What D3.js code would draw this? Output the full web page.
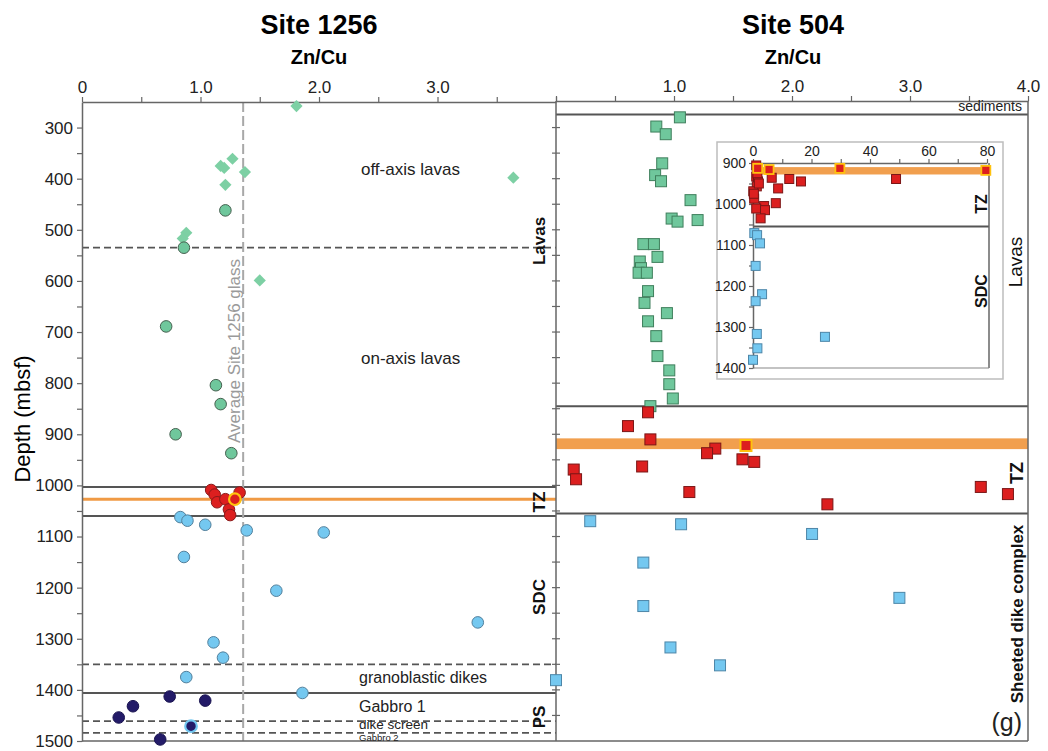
<!DOCTYPE html>
<html><head><meta charset="utf-8">
<script src="https://cdn.jsdelivr.net/npm/d3@7"></script>
<style>
body{margin:0;background:#fff;}
svg{font-family:"Liberation Sans",Arial,sans-serif;}
</style></head>
<body><svg id="c" width="1048" height="751"></svg>
<script>
// ---------- data ----------
const depthTicks = [300,400,500,600,700,800,900,1000,1100,1200,1300,1400,1500];
const xTickLeftLabels = ["0","1.0","2.0","3.0"];
const xTickRightLabels = ["1.0","2.0","3.0","4.0"];
const insetXTicks = [0,20,40,60,80];
const insetDepthTicks = [900,1000,1100,1200,1300,1400];

// Site 1256 [Zn/Cu, depth mbsf]
const s1256OffAxis = [[1.81,258],[1.17,375],[1.20,379],[1.27,361],[1.375,387],[1.21,412],[3.64,398],[0.88,506],[0.85,517],[1.50,599]];
const s1256OnAxis = [[1.21,462],[0.86,535],[0.71,689],[1.13,804],[1.17,841],[0.79,900],[1.26,937]];
const s1256TZ = [[1.09,1009],[1.12,1018],[1.14,1033],[1.21,1027],[1.33,1014],[1.24,1047],[1.25,1058]];
const s1256TZHighlight = [[1.29,1027]];
const s1256SDC = [[0.83,1062],[0.89,1069],[1.04,1077],[1.39,1088],[2.04,1092],[0.86,1140],[1.64,1206],[3.34,1268],[1.11,1307],[1.19,1337],[0.88,1375],[1.86,1406]];
const s1256Gabbro = [[0.74,1413],[1.04,1421],[0.43,1432],[0.31,1454],[0.66,1497]];
const s1256DikeScreen = [[0.92,1471]];
const avgGlass1256 = 1.36;
const s1256SolidBounds = [1003,1060,1406];
const s1256DashedBounds = [535,1350,1461,1484];
const s1256OrangeDepth = 1027;

// Site 504
const s504Lavas = [[1.05,280],[0.85,298],[0.93,313],[0.90,370],[0.84,393],[0.89,405],[1.14,442],[0.98,478],[1.03,484],[1.20,481],[0.74,528],[0.83,528],[0.86,553],[0.71,562],[0.72,575],[0.70,584],[0.77,584],[0.78,620],[0.75,643],[0.94,663],[0.78,679],[0.85,708],[0.86,747],[0.96,775],[0.96,802],[0.99,830],[0.80,845]];
const s504TZ = [[0.78,857],[0.61,884],[0.80,910],[1.35,928],[1.28,937],[1.58,949],[1.68,954],[0.15,969],[0.17,988],[0.73,963],[1.13,1013],[2.30,1037],[3.60,1003],[3.83,1017]];
const s504TZHighlight = [[1.61,922]];
const s504SDC = [[0.29,1070],[1.06,1076],[2.17,1095],[0.74,1151],[0.74,1236],[2.91,1220],[0.97,1317],[1.39,1352],[0.0,1381]];
const s504Bounds = [274.5,845,1055];
const s504OrangeBand = [908,929];

// Inset (Site 504, full Zn/Cu range)
const insetTZ = [[1.1,906],[6.4,936],[12.4,939],[16.4,945],[48.9,939],[1.1,933],[1.7,945],[1.3,957],[0.1,969],[0.4,987],[8.6,962],[7.8,998],[3.8,1005],[1.1,1011],[4.1,1015],[2.6,1035],[1.5,925],[2.0,950],[0.3,975]];
const insetTZHighlight = [[1.6,913],[5.5,916],[29.7,913],[79.6,918]];
const insetSDC = [[0.45,1071],[1.4,1076],[2.4,1096],[0.9,1151],[3.1,1220],[0.9,1237],[1.3,1317],[24.6,1324],[1.5,1352],[0,1380]];
const insetBoundary = 1055;
const insetOrangeBand = [910,928];

// ---------- colours ----------
const cGreen="#6fc79c", cGreenD="#7dd0a4", cRed="#dc1f1f", cBlue="#74c8f0", cNavy="#231b68", cOrange="#f09a45", cGold="#ffc20e", cLine="#555";

// ---------- scales ----------
const svg = d3.select("#c");
const y = d3.scaleLinear().domain([250,1500]).range([102,741]);
const xL = d3.scaleLinear().domain([0,4]).range([82,556]);
const xR = d3.scaleLinear().domain([0,4]).range([556,1028]);
const xI = d3.scaleLinear().domain([0,80]).range([753,987]);
const yI = d3.scaleLinear().domain([900,1400]).range([163,368]);

const fontAxis = 17;

// ---------- titles ----------
svg.append("text").attr("x",319).attr("y",34).attr("text-anchor","middle").attr("font-size",27).attr("font-weight","bold").text("Site 1256");
svg.append("text").attr("x",793).attr("y",34).attr("text-anchor","middle").attr("font-size",27).attr("font-weight","bold").text("Site 504");
svg.append("text").attr("x",319).attr("y",64).attr("text-anchor","middle").attr("font-size",20).attr("font-weight","bold").text("Zn/Cu");
svg.append("text").attr("x",793).attr("y",64).attr("text-anchor","middle").attr("font-size",20).attr("font-weight","bold").text("Zn/Cu");
svg.append("text").attr("transform","translate(30,419) rotate(-90)").attr("text-anchor","middle").attr("font-size",22).text("Depth (mbsf)");

// ---------- backgrounds: bands & lines ----------
const g = svg.append("g");
g.append("rect").attr("x",xR(0)).attr("width",xR(4)-xR(0)).attr("y",y(s504OrangeBand[0])).attr("height",y(s504OrangeBand[1])-y(s504OrangeBand[0])).attr("fill",cOrange).attr("opacity",0.95);
g.append("line").attr("x1",xL(0)).attr("x2",xL(4)).attr("y1",y(s1256OrangeDepth)).attr("y2",y(s1256OrangeDepth)).attr("stroke",cOrange).attr("stroke-width",3);
g.selectAll(".ls").data(s1256SolidBounds).join("line").attr("x1",xL(0)).attr("x2",xL(4)).attr("y1",d=>y(d)).attr("y2",d=>y(d)).attr("stroke",cLine).attr("stroke-width",2);
g.selectAll(".ld").data(s1256DashedBounds).join("line").attr("x1",xL(0)).attr("x2",xL(4)).attr("y1",d=>y(d)).attr("y2",d=>y(d)).attr("stroke",cLine).attr("stroke-width",1.8).attr("stroke-dasharray","7,4");
g.selectAll(".rs").data(s504Bounds).join("line").attr("x1",xR(0)).attr("x2",xR(4)).attr("y1",d=>y(d)).attr("y2",d=>y(d)).attr("stroke",cLine).attr("stroke-width",2);
g.append("line").attr("x1",xL(avgGlass1256)).attr("x2",xL(avgGlass1256)).attr("y1",y(250)).attr("y2",y(1500)).attr("stroke","#a8a8a8").attr("stroke-width",2).attr("stroke-dasharray","10,4");
svg.append("text").attr("transform",`translate(${xL(avgGlass1256)-3},351) rotate(-90)`).attr("text-anchor","middle").attr("font-size",17).attr("fill","#9a9a9a").text("Average Site 1256 glass");

// ---------- frame & axes ----------
const frame = svg.append("g").attr("stroke","#666").attr("stroke-width",1.5);
frame.append("line").attr("x1",xL(0)).attr("x2",xR(4)).attr("y1",741).attr("y2",741);
frame.append("line").attr("x1",556).attr("x2",556).attr("y1",101).attr("y2",741);
frame.append("line").attr("x1",1028).attr("x2",1028).attr("y1",101).attr("y2",741);

function styleAxis(sel, fs){
  sel.selectAll("path").attr("stroke","#666").attr("stroke-width",1.5);
  sel.selectAll("line").attr("stroke","#666").attr("stroke-width",1.2);
  sel.selectAll("text").attr("font-size",fs).attr("fill","#222").attr("font-family",'"Liberation Sans",Arial,sans-serif');
}
const halfTicks = d3.range(0,4.01,0.5);
const axL = svg.append("g").attr("transform","translate(0,102)")
  .call(d3.axisTop(xL).tickValues(halfTicks).tickSize(5).tickSizeOuter(0).tickPadding(4)
    .tickFormat(d => (Number.isInteger(d) && d<4) ? xTickLeftLabels[d] : ""));
styleAxis(axL, fontAxis);
const axR = svg.append("g").attr("transform","translate(0,101)")
  .call(d3.axisTop(xR).tickValues(halfTicks).tickSize(5).tickSizeOuter(0).tickPadding(4)
    .tickFormat(d => (Number.isInteger(d) && d>0) ? xTickRightLabels[d-1] : ""));
styleAxis(axR, fontAxis);
const ayL = svg.append("g").attr("transform",`translate(${xL(0)},0)`)
  .call(d3.axisLeft(y).tickValues(depthTicks).tickSize(5).tickSizeOuter(0).tickPadding(4).tickFormat(d3.format("d")));
styleAxis(ayL, fontAxis);
const ayLm = svg.append("g").attr("transform",`translate(${xL(0)},0)`)
  .call(d3.axisLeft(y).tickValues(d3.range(350,1500,100)).tickSize(5).tickSizeOuter(0).tickFormat(""));
styleAxis(ayLm, fontAxis);
ayLm.select("path").remove();
svg.append("g").selectAll("line").data(d3.range(300,1500,50)).join("line")
  .attr("x1",552).attr("x2",560).attr("y1",d=>y(d)).attr("y2",d=>y(d)).attr("stroke","#666").attr("stroke-width",1.2);

// ---------- unit labels ----------
function vlabel(x,yc,txt,fs,bold){
  svg.append("text").attr("transform",`translate(${x},${yc}) rotate(-90)`).attr("text-anchor","middle")
    .attr("font-size",fs).attr("font-weight",bold?"bold":"normal").attr("fill","#111").text(txt);
}
vlabel(545,241,"Lavas",17,true);
vlabel(545,502,"TZ",17,true);
vlabel(545,597,"SDC",17,true);
vlabel(545,717,"PS",17,true);
vlabel(1022,262,"Lavas",19,false);
vlabel(1023,473,"TZ",18,true);
vlabel(1023,614,"Sheeted dike complex",17,true);
svg.append("text").attr("x",1022).attr("y",731).attr("text-anchor","end").attr("font-size",25).attr("fill","#222").text("(g)");
svg.append("text").attr("x",1022).attr("y",111).attr("text-anchor","end").attr("font-size",14).attr("fill","#222").text("sediments");

function tlabel(x,yb,txt,fs){ svg.append("text").attr("x",x).attr("y",yb).attr("font-size",fs).attr("fill","#222").text(txt); }
tlabel(361,175,"off-axis lavas",17);
tlabel(361,364,"on-axis lavas",17);
tlabel(359,683,"granoblastic dikes",16);
tlabel(359,712,"Gabbro 1",16);
tlabel(359,729,"dike screen",13.5);
tlabel(359,741,"Gabbro 2",9.5);

// ---------- marks: Site 1256 ----------
const m = svg.append("g");
m.selectAll(".dia").data(s1256OffAxis).join("path")
  .attr("d", d3.symbol(d3.symbolDiamond2, 95))
  .attr("transform", d=>`translate(${xL(d[0])},${y(d[1])})`).attr("fill",cGreenD);
function circles(data, fill, stroke, sw){
  m.append("g").selectAll("circle").data(data).join("circle")
    .attr("cx",d=>xL(d[0])).attr("cy",d=>y(d[1])).attr("r",5.8)
    .attr("fill",fill).attr("stroke",stroke).attr("stroke-width",sw);
}
circles(s1256OnAxis, cGreen, "#45604f", 1);
circles(s1256SDC, cBlue, "#52809c", 1);
circles(s1256TZ, cRed, "#8a1a1a", 1);
circles(s1256TZHighlight, cRed, cGold, 2.2);
circles(s1256Gabbro, cNavy, "#1a1450", 1);
circles(s1256DikeScreen, cNavy, cBlue, 2.2);

// ---------- marks: Site 504 ----------
function squares(data, xs, ys, size, fill, stroke, sw){
  m.append("g").selectAll("rect").data(data).join("rect")
    .attr("x",d=>xs(d[0])-size/2).attr("y",d=>ys(d[1])-size/2).attr("width",size).attr("height",size)
    .attr("fill",fill).attr("stroke",stroke).attr("stroke-width",sw);
}
squares(s504Lavas, xR, y, 11, cGreen, "#3f7f5c", 1);
squares(s504TZ, xR, y, 11, cRed, "#7a1616", 1);
squares(s504TZHighlight, xR, y, 11, cRed, cGold, 2);
squares(s504SDC, xR, y, 11, cBlue, "#4d86a8", 1);

// ---------- inset ----------
const ins = svg.append("g");
ins.append("rect").attr("x",717).attr("y",142).attr("width",286).attr("height",237).attr("fill","#fff").attr("stroke","#bdbdbd").attr("stroke-width",1.5);
ins.append("rect").attr("x",xI(0)+2).attr("width",989-xI(0)-2).attr("y",yI(insetOrangeBand[0])).attr("height",yI(insetOrangeBand[1])-yI(insetOrangeBand[0])).attr("fill",cOrange).attr("opacity",0.95);
ins.append("line").attr("x1",xI(0)).attr("x2",989).attr("y1",yI(insetBoundary)).attr("y2",yI(insetBoundary)).attr("stroke",cLine).attr("stroke-width",2);
ins.append("line").attr("x1",989).attr("x2",989).attr("y1",yI(900)).attr("y2",yI(1400)).attr("stroke","#666").attr("stroke-width",1.5);
ins.append("line").attr("x1",xI(0)).attr("x2",989).attr("y1",yI(1400)).attr("y2",yI(1400)).attr("stroke","#888").attr("stroke-width",1.2);
const axI = ins.append("g").attr("transform",`translate(0,${yI(900)})`)
  .call(d3.axisTop(xI).tickValues(d3.range(0,81,10)).tickSize(4).tickSizeOuter(0).tickPadding(3)
    .tickFormat(d => insetXTicks.includes(d) ? String(d) : ""));
styleAxis(axI, 14);
const ayI = ins.append("g").attr("transform",`translate(${xI(0)},0)`)
  .call(d3.axisLeft(yI).tickValues(insetDepthTicks).tickSize(4).tickSizeOuter(0).tickPadding(3).tickFormat(d3.format("d")));
styleAxis(ayI, 14);
const ayIm = ins.append("g").attr("transform",`translate(${xI(0)},0)`)
  .call(d3.axisLeft(yI).tickValues(d3.range(950,1400,100)).tickSize(4).tickFormat(""));
styleAxis(ayIm, 14); ayIm.select("path").remove();
function ivl(x,yc,txt){ ins.append("text").attr("transform",`translate(${x},${yc}) rotate(-90)`).attr("text-anchor","middle").attr("font-size",16).attr("font-weight","bold").attr("fill","#111").text(txt); }
ivl(987,204,"TZ");
ivl(987,291,"SDC");
function isq(data, fill, stroke, sw){
  ins.append("g").selectAll("rect").data(data).join("rect")
    .attr("x",d=>xI(d[0])-4.5).attr("y",d=>yI(d[1])-4.5).attr("width",9).attr("height",9)
    .attr("fill",fill).attr("stroke",stroke).attr("stroke-width",sw);
}
isq(insetSDC, cBlue, "#4d86a8", 1);
isq(insetTZ, cRed, "#7a1616", 1);
isq(insetTZHighlight, cRed, cGold, 1.8);
</script></body></html>
